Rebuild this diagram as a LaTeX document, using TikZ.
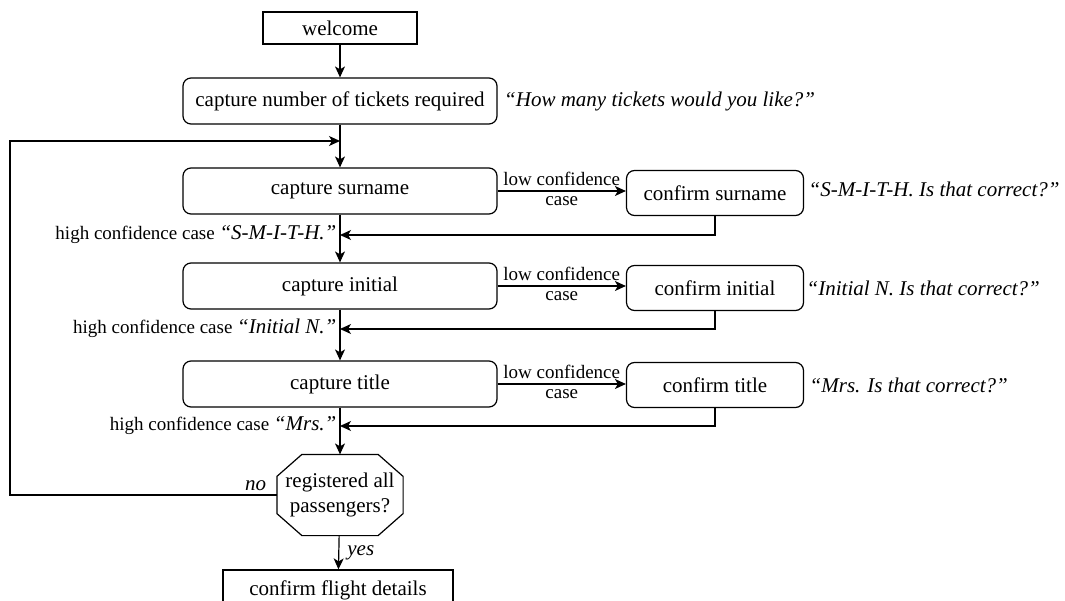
\documentclass[tikz,border=0pt]{standalone}
\usepackage{fontspec}
\setmainfont{Liberation Serif}
\usetikzlibrary{arrows.meta}

\begin{document}
\begin{tikzpicture}[x=1pt,y=-1pt,line width=1.2pt,
    >={Stealth[length=11pt,width=10pt,inset=3pt]},
    every node/.style={font=\fontsize{21}{25}\selectfont},
    plainbox/.style={draw,rectangle,inner sep=0pt,minimum height=32pt},
    capbox/.style={draw,rectangle,rounded corners=8pt,inner sep=0pt,minimum width=314pt,minimum height=46pt},
    confbox/.style={draw,rectangle,rounded corners=8pt,inner sep=0pt,minimum width=177pt,minimum height=45pt},
    prompt/.style={anchor=west,inner sep=0pt,font=\fontsize{21}{25}\selectfont\itshape},
    small/.style={font=\fontsize{19}{22}\selectfont,inner sep=0pt,text height=13pt,text depth=4pt}]
    \useasboundingbox (0,0) rectangle (1065,601);

    % Main column
    \node[plainbox,minimum width=154pt] (welcome) at (340,28) {welcome};
    \node[capbox] (tickets) at (340,101) {capture number of tickets required};
    \node[capbox] (surname) at (340,191) {capture surname};
    \node[capbox] (initial) at (340,286) {capture initial};
    \node[capbox] (title) at (340,384) {capture title};
    \node[inner sep=0pt,minimum width=125pt,minimum height=80pt,align=center] (decide) at (340,495) {registered all\\passengers?};
    \node[plainbox,minimum width=230pt,minimum height=40pt] (flight) at (338,590) {confirm flight details};

    \draw ([xshift=25pt]decide.north west) -- ([xshift=-25pt]decide.north east)
        -- ([yshift=-22pt]decide.north east) -- ([yshift=22pt]decide.south east)
        -- ([xshift=-25pt]decide.south east) -- ([xshift=25pt]decide.south west)
        -- ([yshift=22pt]decide.south west) -- ([yshift=-22pt]decide.north west) -- cycle;

    % Confirm column
    \node[confbox] (csurname) at (715,193) {confirm surname};
    \node[confbox] (cinitial) at (715,288) {confirm initial};
    \node[confbox] (ctitle) at (715,385) {confirm title};

    % Prompts
    \node[prompt] (qtickets) at ([xshift=6pt]tickets.east) {“How many tickets would you like?”};
    \node[prompt] (qsurname) at ([xshift=4pt,yshift=4pt]csurname.east) {“S-M-I-T-H. Is that correct?”};
    \node[prompt] (qinitial) at ([xshift=2pt]cinitial.east) {“Initial N. Is that correct?”};
    \node[prompt] (qtitle) at ([xshift=5pt]ctitle.east) {“Mrs. Is that correct?”};

    % Arrows
    \coordinate (join) at (340,141);
    \coordinate (loopx) at (10,141);
    \coordinate (back1) at (340,235);
    \coordinate (back2) at (340,329);
    \coordinate (back3) at (340,426);

    \draw[->] (welcome) -- (tickets);
    \draw[->] (tickets) -- (surname);
    \draw[->] (surname) -- (initial);
    \draw[->] (initial) -- (title);
    \draw[->] (title) -- (decide);
    \draw[->] (decide) -- node[right,inner sep=8pt,font=\fontsize{21}{25}\selectfont\itshape] {yes} (flight);
    \draw[->] (decide.west) -- node[pos=0.08,above,font=\fontsize{21}{25}\selectfont\itshape] {no}
        (decide.west -| loopx) -- (loopx) -- (join);

    \draw[->] (surname.east) -- node[small,above=1pt] {low confidence} node[small,below=1pt] {case} (csurname.west |- surname.east);
    \draw[->] (initial.east) -- node[small,above=1pt] {low confidence} node[small,below=1pt] {case} (cinitial.west |- initial.east);
    \draw[->] (title.east) -- node[small,above=1pt] {low confidence} node[small,below=1pt] {case} (ctitle.west |- title.east);

    \draw[->] (csurname.south) |- node[pos=1,small,left=3pt] {high confidence case \fontsize{21}{25}\selectfont\itshape “S-M-I-T-H.”} (back1);
    \draw[->] (cinitial.south) |- node[pos=1,small,left=3pt] {high confidence case \fontsize{21}{25}\selectfont\itshape “Initial N.”} (back2);
    \draw[->] (ctitle.south) |- node[pos=1,small,left=3pt] {high confidence case \fontsize{21}{25}\selectfont\itshape “Mrs.”} (back3);
\end{tikzpicture}
\end{document}
